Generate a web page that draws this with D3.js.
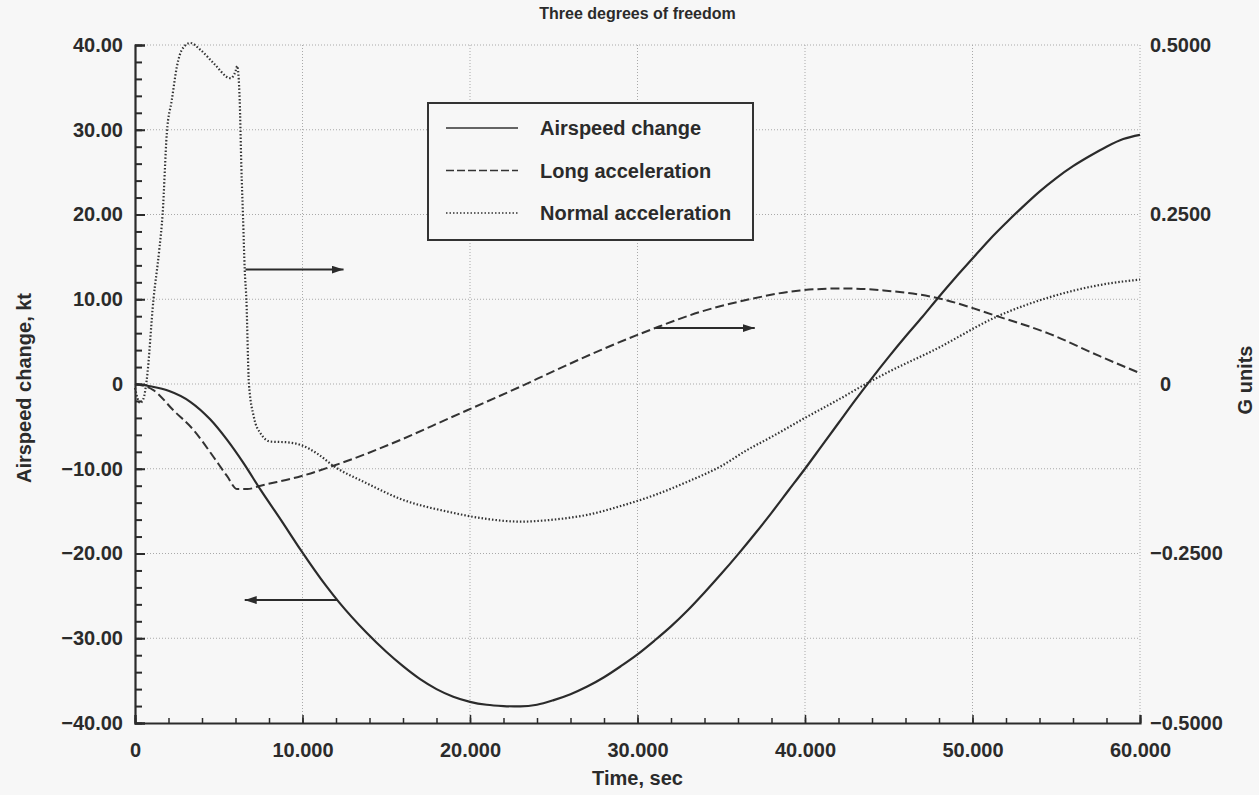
<!DOCTYPE html>
<html>
<head>
<meta charset="utf-8">
<script src="https://cdn.jsdelivr.net/npm/d3@7/dist/d3.min.js"></script>
<style>
  html, body { margin: 0; padding: 0; background: #f7f7f7; }
  svg { display: block; font-family: "Liberation Sans", Arial, Helvetica, sans-serif; }
</style>
</head>
<body>
<svg id="chart" width="1259" height="795"></svg>
<script>
// Airspeed change (kt, left axis) against time (sec)
const airspeedTime = [0, 1, 2, 3.3, 4.5, 5.5, 6.5, 7.5, 8.7, 9.9, 11.4, 12.2, 13.8, 15, 16, 17, 18, 19, 20, 21, 22, 23, 24, 25, 26, 27, 28, 29, 30, 31, 32, 33, 34, 35, 36, 37, 38, 39, 40, 41, 42, 43, 44, 45, 46, 47, 48, 49, 50, 51, 52, 53, 54, 55, 56, 57, 58, 59, 60];
const airspeedKt = [0, -0.3, -0.8, -2.1, -4.2, -6.6, -9.4, -12.5, -16.0, -19.6, -23.8, -25.8, -29.3, -31.6, -33.3, -34.8, -36.0, -36.9, -37.5, -37.85, -38.0, -38.05, -37.85, -37.3, -36.6, -35.7, -34.6, -33.3, -31.9, -30.3, -28.6, -26.7, -24.6, -22.4, -20.1, -17.7, -15.2, -12.6, -10.0, -7.3, -4.6, -1.9, 0.7, 3.2, 5.6, 7.9, 10.3, 12.6, 14.8, 17.0, 19.0, 20.9, 22.7, 24.3, 25.7, 26.9, 28.0, 28.9, 29.4];

// Longitudinal acceleration (G units, right axis)
const longTime = [0, 1.1, 2.3, 3.5, 4.7, 5.5, 6.1, 6.7, 7.5, 9.9, 11.8, 13.8, 15.8, 18.8, 21, 23, 25, 27.8, 31.1, 33.7, 36.7, 39.7, 42.3, 44.7, 47.7, 51.6, 54.6, 57.6, 60];
const longG = [0, -0.009, -0.039, -0.068, -0.108, -0.136, -0.155, -0.155, -0.150, -0.136, -0.121, -0.103, -0.083, -0.050, -0.026, -0.004, 0.019, 0.050, 0.083, 0.106, 0.125, 0.138, 0.141, 0.138, 0.128, 0.099, 0.074, 0.041, 0.016];

// Normal acceleration (G units, right axis)
const normalTime = [0, 0.3, 0.5, 0.7, 1.1, 1.45, 1.65, 1.9, 2.2, 2.5, 2.8, 3.3, 3.9, 4.7, 5.7, 6.0, 6.1, 6.25, 6.35, 6.45, 6.55, 6.65, 6.8, 7.1, 7.5, 8.1, 9.1, 9.9, 10.9, 11.8, 13.8, 15.8, 18.8, 21, 23, 25, 27, 29, 31, 33, 35, 36.5, 38, 40, 42, 43.7, 45, 47.7, 51.6, 54.6, 57.6, 60];
const normalG = [-0.006, -0.028, -0.022, 0.006, 0.124, 0.198, 0.251, 0.370, 0.419, 0.468, 0.493, 0.503, 0.493, 0.473, 0.451, 0.461, 0.469, 0.419, 0.320, 0.246, 0.169, 0.124, 0.001, -0.049, -0.073, -0.085, -0.086, -0.090, -0.103, -0.120, -0.146, -0.169, -0.189, -0.199, -0.203, -0.200, -0.193, -0.180, -0.164, -0.144, -0.121, -0.098, -0.078, -0.050, -0.023, 0.001, 0.018, 0.050, 0.101, 0.128, 0.146, 0.154];

// Tick values
const timeTicks = [0, 10, 20, 30, 40, 50, 60];
const ktTicks = [-40, -30, -20, -10, 0, 10, 20, 30, 40];
const gTicks = [-0.5, -0.25, 0, 0.25, 0.5];

// Legend entries
const seriesNames = ["Airspeed change", "Long acceleration", "Normal acceleration"];

// Pointer arrows: time span (sec) and height (kt on the left scale)
const arrowStart = [6.6, 31.1, 12.1];
const arrowEnd = [12.45, 37.0, 6.55];
const arrowLevel = [13.5, 6.6, -25.5];

const svg = d3.select("#chart");
const W = 1259, H = 795;
const m = { left: 135, right: 119, top: 45, bottom: 72 };
const iw = W - m.left - m.right, ih = H - m.top - m.bottom;
const ink = "#2b2b2b";

svg.append("rect").attr("width", W).attr("height", H).attr("fill", "#f7f7f7");

const x = d3.scaleLinear().domain([0, 60]).range([0, iw]);
const yL = d3.scaleLinear().domain([-40, 40]).range([ih, 0]);
const yR = d3.scaleLinear().domain([-0.5, 0.5]).range([ih, 0]);

const g = svg.append("g").attr("transform", `translate(${m.left},${m.top})`);

// dotted grid
const grid = g.append("g").attr("stroke", "#a9a9a9").attr("stroke-width", 1).attr("stroke-dasharray", "1,2");
grid.selectAll("line.h").data(ktTicks.filter(d => d > -40)).join("line")
  .attr("x1", 0).attr("x2", iw).attr("y1", d => yL(d)).attr("y2", d => yL(d));
grid.selectAll("line.v").data(timeTicks.filter(d => d > 0)).join("line")
  .attr("y1", 0).attr("y2", ih).attr("x1", d => x(d)).attr("x2", d => x(d));

const fmtKt = d => d === 0 ? "0" : d3.format(".2f")(d);
const fmtT = d => d === 0 ? "0" : d3.format(".3f")(d);
const fmtG = d => d === 0 ? "0" : d3.format(".4f")(d);

// left axis: minor then major ticks, pointing inward
g.append("g").call(d3.axisLeft(yL).tickValues(d3.range(-40, 41, 2)).tickSize(-7).tickFormat(""))
  .call(s => s.select(".domain").remove())
  .call(s => s.selectAll("line").attr("stroke", ink).attr("stroke-width", 2));
const la = g.append("g").call(d3.axisLeft(yL).tickValues(ktTicks).tickSize(-10).tickPadding(12).tickFormat(fmtKt));
la.select(".domain").attr("stroke", ink).attr("stroke-width", 2.2);
la.selectAll("line").attr("stroke", ink).attr("stroke-width", 2);
la.selectAll("text").attr("fill", ink).style("font-size", "20px").style("font-weight", "bold");

// bottom axis
g.append("g").attr("transform", `translate(0,${ih})`)
  .call(d3.axisBottom(x).tickValues(d3.range(0, 61, 2)).tickSize(-5).tickFormat(""))
  .call(s => s.select(".domain").remove())
  .call(s => s.selectAll("line").attr("stroke", ink).attr("stroke-width", 1.5));
const ba = g.append("g").attr("transform", `translate(0,${ih})`)
  .call(d3.axisBottom(x).tickValues(timeTicks).tickSize(-8).tickPadding(20).tickFormat(fmtT));
ba.select(".domain").attr("stroke", ink).attr("stroke-width", 2.2);
ba.selectAll("line").attr("stroke", ink).attr("stroke-width", 1.5);
ba.selectAll("text").attr("fill", ink).style("font-size", "20px").style("font-weight", "bold");

// right axis: labels only, border is part of the dotted grid
const ra = g.append("g").attr("transform", `translate(${iw},0)`)
  .call(d3.axisRight(yR).tickValues(gTicks).tickSize(0).tickPadding(10).tickFormat(fmtG));
ra.select(".domain").remove();
ra.selectAll("text").attr("fill", ink).style("font-size", "20px").style("font-weight", "bold")
  .attr("dx", d => d === 0 ? 10 : 0);

// series
const lineKt = d3.line().x(d => x(d[0])).y(d => yL(d[1])).curve(d3.curveMonotoneX);
const lineG = d3.line().x(d => x(d[0])).y(d => yR(d[1])).curve(d3.curveMonotoneX);

g.append("path").datum(d3.zip(normalTime, normalG)).attr("d", lineG)
  .attr("fill", "none").attr("stroke", "#333").attr("stroke-width", 2.2).attr("stroke-dasharray", "1.5,2");
g.append("path").datum(d3.zip(longTime, longG)).attr("d", lineG)
  .attr("fill", "none").attr("stroke", "#333").attr("stroke-width", 2).attr("stroke-dasharray", "9,4");
g.append("path").datum(d3.zip(airspeedTime, airspeedKt)).attr("d", lineKt)
  .attr("fill", "none").attr("stroke", ink).attr("stroke-width", 2.2);

// arrows
svg.append("defs").append("marker").attr("id", "head")
  .attr("viewBox", "0 0 12 8").attr("refX", 12).attr("refY", 4)
  .attr("markerWidth", 12).attr("markerHeight", 8).attr("markerUnits", "userSpaceOnUse")
  .attr("orient", "auto")
  .append("path").attr("d", "M0,0 L12,4 L0,8 Z").attr("fill", ink);
g.selectAll("line.arrow").data(d3.range(arrowStart.length)).join("line")
  .attr("class", "arrow")
  .attr("x1", i => x(arrowStart[i])).attr("x2", i => x(arrowEnd[i]))
  .attr("y1", i => yL(arrowLevel[i])).attr("y2", i => yL(arrowLevel[i]))
  .attr("stroke", ink).attr("stroke-width", 2).attr("marker-end", "url(#head)");

// legend
const lg = svg.append("g").attr("transform", "translate(428,103)");
lg.append("rect").attr("width", 325).attr("height", 137)
  .attr("fill", "#f7f7f7").attr("stroke", "#333").attr("stroke-width", 2);
const dashes = [null, "8,3", "1.5,2"];
seriesNames.forEach((name, i) => {
  const yy = 25 + i * 42.5;
  lg.append("line").attr("x1", 18).attr("x2", 90).attr("y1", yy).attr("y2", yy)
    .attr("stroke", "#333").attr("stroke-width", 1.6).attr("stroke-dasharray", dashes[i]);
  lg.append("text").attr("x", 112).attr("y", yy).attr("dy", "0.35em")
    .attr("fill", ink).style("font-size", "20px").style("font-weight", "bold").text(name);
});

// titles
svg.append("text").attr("x", m.left + iw / 2).attr("y", 19).attr("text-anchor", "middle")
  .attr("fill", ink).style("font-size", "16px").style("font-weight", "bold").text("Three degrees of freedom");
svg.append("text").attr("x", m.left + iw / 2).attr("y", 785).attr("text-anchor", "middle")
  .attr("fill", ink).style("font-size", "20px").style("font-weight", "bold").text("Time, sec");
svg.append("text").attr("transform", "translate(31,388) rotate(-90)").attr("text-anchor", "middle")
  .attr("fill", ink).style("font-size", "20px").style("font-weight", "bold").text("Airspeed change, kt");
svg.append("text").attr("transform", "translate(1252,380) rotate(-90)").attr("text-anchor", "middle")
  .attr("fill", ink).style("font-size", "20px").style("font-weight", "bold").text("G units");
</script>
</body>
</html>
